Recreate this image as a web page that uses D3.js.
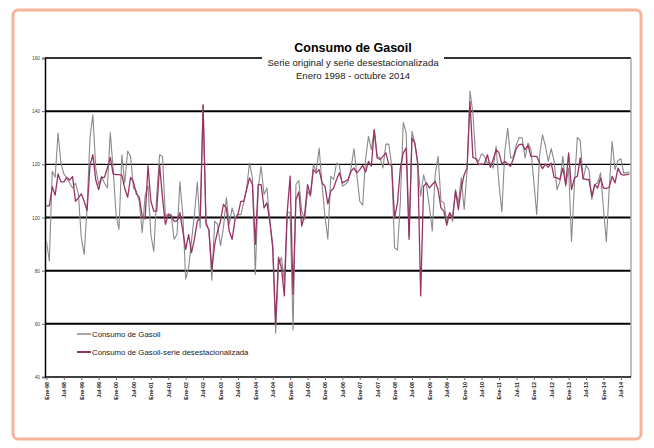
<!DOCTYPE html>
<html>
<head>
<meta charset="utf-8">
<script src="https://cdn.jsdelivr.net/npm/d3@7"></script>
<style>
  body { margin: 0; background: #fff; }
  svg { display: block; font-family: "Liberation Sans", Arial, sans-serif; }
</style>
</head>
<body>
<svg id="chart" width="654" height="448"></svg>
<script>
// Consumo de Gasoil, monthly, Ene-98 .. Oct-14 (202 months)
const startMonth = new Date(1998, 0, 1)
const endMonth = new Date(2014, 10, 1)

const original = [
  91.1, 83.6, 117.4, 115.1, 131.8, 120.5, 116.4, 114.9, 113, 111.1,
  113, 109, 92.4, 86.1, 103.6, 129.9, 138.6, 118.6, 112.4, 115.5,
  113, 111.1, 132, 118, 101.1, 95.5, 123.6, 113, 125, 123,
  111, 110, 106, 94.3, 108, 112, 93.5, 87.2, 108, 123.6,
  123, 100.5, 101.4, 101.1, 91.8, 93.6, 113.4, 101.1, 76.8, 81.1,
  91.1, 101.1, 113.3, 96.1, 142.4, 98.6, 94.9, 76.4, 98.6, 97.4,
  89.4, 96.1, 107.4, 97.4, 103.6, 99.9, 101.1, 101.1, 105.5, 111.1,
  120.5, 114.9, 78.6, 111.1, 119.3, 108.6, 111.1, 98.6, 89.9, 56.5,
  82, 85, 76, 102, 102, 57.8, 112.4, 113.9, 102.4, 99.3,
  110, 108, 119.9, 117.4, 126.1, 112.4, 100.5, 91.8, 115.5, 114.3,
  120.5, 119.6, 111.8, 112.4, 113.6, 118.6, 125.9, 116.1, 106.1, 104.6,
  121.8, 130.5, 125.5, 133, 123, 122.4, 118.6, 127.6, 127.6, 119.6,
  88.6, 87.8, 106.1, 135.8, 131.8, 93, 132.4, 128, 119.9, 108,
  116, 112, 104, 94.9, 116.1, 123, 106.1, 105.5, 98.6, 101.8,
  98.6, 110.5, 105.5, 114.9, 103, 118, 147.6, 139.3, 122.4, 121.1,
  124, 123, 120.5, 120.5, 118.6, 126.8, 112.4, 102.2, 124.9, 133.6,
  122.4, 123, 127.4, 130.1, 129.9, 122.4, 128, 125.5, 113.6, 101.1,
  123.6, 131.1, 126.8, 121.1, 125.9, 121.1, 110.5, 113.6, 123, 111.8,
  118.6, 91.1, 112.4, 130.1, 128.9, 114.3, 119.6, 118, 106.8, 112.4,
  113, 116.8, 103.6, 90.9, 111.1, 128.6, 118, 121.4, 122.1, 116.8,
  116.8, 117.1
]

const desest = [
  104.4, 104.4, 111.6, 108.4, 116.4, 113.4, 113.4, 115.1, 114.1, 115.4,
  106.1, 107.4, 108.9, 106.1, 102.6, 119.6, 123.6, 114.1, 110.5, 115.1,
  115.1, 118.6, 122.6, 116.4, 116.1, 116.1, 115.9, 110.9, 107.6, 115.1,
  113.4, 108.9, 107.6, 100.5, 99.5, 119.5, 106.1, 102.4, 102.4, 119.9,
  107.4, 97.4, 101.1, 100.5, 98.6, 98.6, 101.8, 94.9, 88, 93.6,
  86.8, 91.8, 98.6, 99.9, 142.4, 97.4, 95.5, 80.5, 89.9, 94.9,
  98.6, 104.9, 103.6, 94.9, 91.8, 99.3, 101.1, 106.1, 106.1, 110.5,
  114.9, 112.4, 89.9, 112.4, 112.4, 103.6, 105.5, 98.6, 88.6, 60,
  85, 81, 70.5, 102, 115.6, 71, 106.8, 109.6, 96.8, 101.1,
  112.4, 108.4, 118, 116.8, 118, 113, 111.8, 105.1, 109.9, 111.1,
  114.3, 116.8, 113, 113.6, 114.3, 117.4, 118.6, 116.8, 118, 119.6,
  117.1, 121.1, 119.3, 133, 122.4, 121.8, 123, 124.3, 120.1, 119.6,
  99.9, 105.5, 118.6, 124.3, 126.1, 91.8, 129.9, 128, 120.5, 70.5,
  111.8, 113, 111.1, 112.4, 113.6, 110.5, 103.6, 102.4, 97.1, 101.8,
  99.9, 109.9, 103, 111.1, 116.1, 118.6, 143.6, 122.6, 122.1, 119.9,
  120.1, 120.1, 123.6, 118.9, 121.8, 125.5, 124.3, 120.1, 121.1, 120.1,
  119.3, 122.4, 126.1, 127.4, 127.6, 125.5, 127.1, 123, 123, 123,
  120.5, 118.4, 120.1, 118.9, 120.5, 115.1, 114.9, 114.3, 118.6, 112.4,
  124.3, 110.5, 114.9, 115.5, 122.4, 114.6, 114.3, 114.3, 108, 112.4,
  111.1, 114.9, 111.1, 110.9, 111.4, 115.5, 113, 118.6, 116.4, 115.9,
  116.1, 116.4
]

const tickLabels = [
  'Ene-98', 'Jul-98', 'Ene-99', 'Jul-99', 'Ene-00', 'Jul-00', 'Ene-01', 'Jul-01',
  'Ene-02', 'Jul-02', 'Ene-03', 'Jul-03', 'Ene-04', 'Jul-04', 'Ene-05', 'Jul-05',
  'Ene-06', 'Jul-06', 'Ene-07', 'Jul-07', 'Ene-08', 'Jul-08', 'Ene-09', 'Jul-09',
  'Ene-10', 'Jul-10', 'Ene-11', 'Jul-11', 'Ene-12', 'Jul-12', 'Ene-13', 'Jul-13',
  'Ene-14', 'Jul-14'
]
const yTicks = [40, 60, 80, 100, 120, 140, 160]

const seriesNames = ['Consumo de Gasoil', 'Consumo de Gasoil-serie desestacionalizada']
const seriesColors = ['#8a8a8a', '#993366']

const months = d3.timeMonth.range(startMonth, endMonth)
const svg = d3.select('#chart')

// outer frame
svg.append('rect')
  .attr('x', 13).attr('y', 10).attr('width', 628).attr('height', 429)
  .attr('rx', 5)
  .attr('fill', '#fff').attr('stroke', '#f8b49a').attr('stroke-width', 3)

const plotLeft = 45, plotRight = 631, plotTop = 58, plotBottom = 377

const x = d3.scalePoint()
  .domain(d3.range(months.length))
  .range([plotLeft, plotRight])
  .padding(0.5)
const y = d3.scaleLinear().domain([40, 160]).range([plotBottom, plotTop])

// gridlines
svg.append('g')
  .selectAll('line')
  .data(yTicks.filter(v => v > 40))
  .join('line')
  .attr('x1', plotLeft).attr('x2', plotRight)
  .attr('y1', d => y(d)).attr('y2', d => y(d))
  .attr('stroke', d => d === 160 ? '#333' : '#000')
  .attr('stroke-width', d => d === 120 ? 1.2 : 2)

// right edge
svg.append('line')
  .attr('x1', plotRight).attr('x2', plotRight).attr('y1', plotTop).attr('y2', plotBottom)
  .attr('stroke', '#aaa').attr('stroke-width', 1.5)

// y axis
const yAxis = svg.append('g')
  .attr('transform', `translate(${plotLeft},0)`)
  .call(d3.axisLeft(y).tickValues(yTicks).tickSize(3).tickPadding(2))
yAxis.select('.domain').attr('stroke', '#000').attr('stroke-width', 1.5)
yAxis.selectAll('.tick line').attr('stroke', '#666')
yAxis.selectAll('text').attr('font-size', 4.8).attr('fill', '#444')
  .attr('font-family', '"Liberation Sans", Arial, sans-serif')

// x axis
const tickIdx = d3.range(0, months.length, 6)
const xAxis = svg.append('g')
  .attr('transform', `translate(0,${plotBottom})`)
  .call(d3.axisBottom(x).tickValues(tickIdx).tickSize(3)
    .tickFormat((d, i) => tickLabels[i]))
xAxis.select('.domain').attr('stroke', '#000').attr('stroke-width', 1.5)
  .attr('d', `M${plotLeft},0H${plotRight}`)
xAxis.selectAll('.tick line').attr('stroke', '#666')
xAxis.selectAll('text')
  .attr('font-size', 5.4).attr('font-weight', 'bold').attr('fill', '#222')
  .attr('font-family', '"Liberation Sans", Arial, sans-serif')
  .attr('text-anchor', 'end')
  .attr('transform', 'rotate(-90)')
  .attr('x', -5).attr('y', 0).attr('dy', '0.35em')

// lines
const line = d3.line().x((d, i) => x(i)).y(d => y(d))
svg.append('path').datum(original)
  .attr('d', line).attr('fill', 'none')
  .attr('stroke', seriesColors[0]).attr('stroke-width', 1.1)
  .attr('stroke-linejoin', 'round')
svg.append('path').datum(desest)
  .attr('d', line).attr('fill', 'none')
  .attr('stroke', seriesColors[1]).attr('stroke-width', 1.3)
  .attr('stroke-linejoin', 'round')

// title block
svg.append('rect')
  .attr('x', 262).attr('y', 38).attr('width', 182).attr('height', 44)
  .attr('fill', '#fff')
svg.append('text')
  .attr('x', 353).attr('y', 52).attr('text-anchor', 'middle')
  .attr('font-size', 12.5).attr('font-weight', 'bold')
  .text('Consumo de Gasoil')
svg.append('text')
  .attr('x', 353).attr('y', 65.5).attr('text-anchor', 'middle')
  .attr('font-size', 9.6).attr('fill', '#222')
  .text('Serie original y serie desestacionalizada')
svg.append('text')
  .attr('x', 353).attr('y', 78.5).attr('text-anchor', 'middle')
  .attr('font-size', 9.6).attr('fill', '#222')
  .text('Enero 1998 - octubre 2014')

// legend
const legend = svg.append('g')
  .selectAll('g')
  .data(seriesNames)
  .join('g')
  .attr('transform', (d, i) => `translate(77,${334 + i * 18})`)
legend.append('line')
  .attr('x1', 0).attr('x2', 14).attr('y1', 0).attr('y2', 0)
  .attr('stroke', (d, i) => seriesColors[i]).attr('stroke-width', (d, i) => i ? 2 : 1.5)
legend.append('text')
  .attr('x', 15).attr('y', 2.8)
  .attr('font-size', 7.8).attr('fill', '#222')
  .text(d => d)
</script>
</body>
</html>
